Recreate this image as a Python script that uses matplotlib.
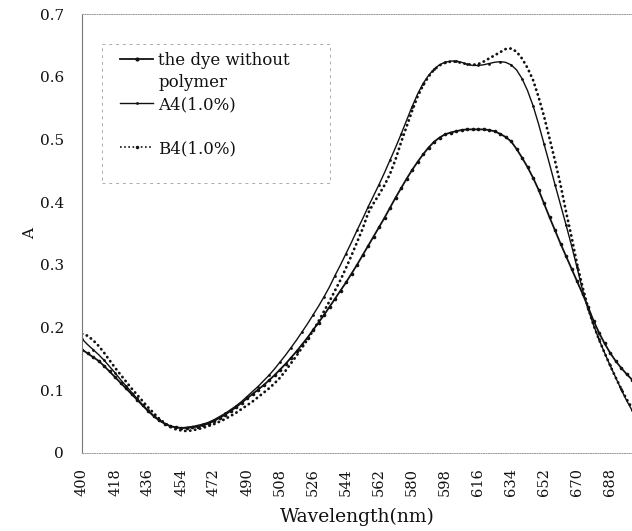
import matplotlib
matplotlib.use("Agg")
import matplotlib.pyplot as plt
from matplotlib.lines import Line2D
from matplotlib.patches import Rectangle
import numpy as np

plt.rcParams['font.family'] = ['DejaVu Serif']

# wavelength grid, 3 nm step
wavelength = np.arange(400, 701, 3)

# absorbance of the dye without polymer
dye = [0.165, 0.159, 0.153, 0.147, 0.139, 0.130, 0.121, 0.112, 0.103, 0.094,
       0.085, 0.076, 0.067, 0.059, 0.052, 0.047, 0.043, 0.041, 0.040, 0.040,
       0.041, 0.042, 0.044, 0.047, 0.051, 0.056, 0.061, 0.067, 0.073, 0.080,
       0.087, 0.094, 0.101, 0.108, 0.116, 0.124, 0.133, 0.142, 0.152, 0.162,
       0.173, 0.184, 0.196, 0.208, 0.220, 0.233, 0.246, 0.259, 0.272, 0.286,
       0.300, 0.315, 0.330, 0.345, 0.360, 0.375, 0.391, 0.407, 0.422, 0.437,
       0.451, 0.464, 0.476, 0.487, 0.496, 0.503, 0.508, 0.511, 0.513, 0.515,
       0.516, 0.516, 0.516, 0.516, 0.515, 0.513, 0.509, 0.504, 0.497, 0.485,
       0.471, 0.456, 0.439, 0.420, 0.398, 0.376, 0.355, 0.334, 0.314, 0.294,
       0.274, 0.254, 0.233, 0.211, 0.192, 0.175, 0.160, 0.147, 0.136, 0.126,
       0.117]

# A4 (1.0%)
a4 = [0.182, 0.173, 0.165, 0.157, 0.148, 0.138, 0.128, 0.117, 0.107, 0.097,
      0.087, 0.077, 0.068, 0.060, 0.053, 0.047, 0.043, 0.041, 0.040, 0.041,
      0.042, 0.044, 0.046, 0.049, 0.053, 0.058, 0.063, 0.069, 0.075, 0.082,
      0.090, 0.098, 0.106, 0.115, 0.124, 0.134, 0.145, 0.156, 0.168, 0.180,
      0.193, 0.206, 0.220, 0.234, 0.249, 0.265, 0.283, 0.300, 0.318, 0.336,
      0.355, 0.373, 0.392, 0.410, 0.428, 0.447, 0.467, 0.487, 0.508, 0.530,
      0.552, 0.572, 0.589, 0.602, 0.612, 0.619, 0.623, 0.625, 0.625, 0.623,
      0.620, 0.618, 0.618, 0.619, 0.621, 0.623, 0.624, 0.623, 0.619, 0.611,
      0.597, 0.578, 0.554, 0.525, 0.493, 0.461, 0.428, 0.396, 0.364, 0.331,
      0.296, 0.260, 0.230, 0.204, 0.181, 0.160, 0.140, 0.121, 0.102, 0.084,
      0.068]

# B4 (1.0%)
b4 = [0.190, 0.187, 0.180, 0.171, 0.160, 0.148, 0.136, 0.125, 0.114, 0.103,
      0.093, 0.083, 0.073, 0.064, 0.055, 0.048, 0.042, 0.038, 0.036, 0.035,
      0.036, 0.038, 0.040, 0.043, 0.046, 0.050, 0.054, 0.059, 0.064, 0.070,
      0.076, 0.082, 0.089, 0.096, 0.103, 0.111, 0.120, 0.131, 0.143, 0.155,
      0.168, 0.181, 0.195, 0.210, 0.226, 0.242, 0.259, 0.276, 0.295, 0.315,
      0.336, 0.357, 0.382, 0.398, 0.412, 0.427, 0.445, 0.468, 0.495, 0.520,
      0.545, 0.568, 0.586, 0.600, 0.611, 0.618, 0.622, 0.624, 0.624, 0.622,
      0.620, 0.619, 0.620, 0.624, 0.629, 0.634, 0.639, 0.644, 0.645, 0.640,
      0.629, 0.614, 0.595, 0.568, 0.537, 0.502, 0.466, 0.428, 0.385, 0.345,
      0.302, 0.265, 0.232, 0.204, 0.181, 0.160, 0.140, 0.121, 0.103, 0.086,
      0.072]

xticks = list(range(400, 689, 18))
yticks = [0, 0.1, 0.2, 0.3, 0.4, 0.5, 0.6, 0.7]
ytick_labels = ['0', '0.1', '0.2', '0.3', '0.4', '0.5', '0.6', '0.7']

ink = '#111111'

fig = plt.figure(figsize=(6.32, 5.31), dpi=100)
ax = fig.add_axes([82 / 632, 78 / 531, 550 / 632, 439 / 531])

ax.plot(wavelength, dye, color=ink, lw=1.3, marker='o', ms=2.6, mew=0)
ax.plot(wavelength, a4, color=ink, lw=1.0, marker='o', ms=2.0, mew=0, markevery=2)
ax.plot(wavelength, b4, color=ink, lw=2.0, linestyle=(0, (0.1, 1.7)),
        dash_capstyle='round')

ax.set_xlim(400, 700)
ax.set_ylim(0, 0.7)
ax.set_xticks(xticks)
ax.set_xticklabels([str(t) for t in xticks], rotation=90, fontsize=10.5)
ax.set_yticks(yticks)
ax.set_yticklabels(ytick_labels, fontsize=11)
ax.tick_params(axis='x', length=0, pad=11, colors=ink)
ax.tick_params(axis='y', length=0, pad=13, colors=ink)
ax.set_xlabel('Wavelength(nm)', fontsize=13.5, labelpad=8, color=ink)
ax.set_ylabel('A', fontsize=11, labelpad=2, color=ink)

ax.spines['right'].set_visible(False)
ax.spines['left'].set_color('#777777')
ax.spines['left'].set_linewidth(0.8)
for side in ['top', 'bottom']:
    ax.spines[side].set_color('#999999')
    ax.spines[side].set_linewidth(0.7)
    ax.spines[side].set_linestyle((0, (1, 1.5)))

# legend: the first label wraps onto a second row, and there is a gap before B4
blank = Line2D([], [], linestyle='none')
handles = [
    Line2D([], [], color=ink, lw=1.3, marker='o', ms=3, mew=0, markevery=[1]),
    blank,
    Line2D([], [], color=ink, lw=1.0, marker='o', ms=2, mew=0, markevery=[1]),
    blank,
    Line2D([], [], color=ink, lw=1.2, linestyle=(0, (1, 1.5)),
           marker='o', ms=2.5, mew=0, markevery=[0]),
]
labels = ['the dye without', 'polymer', 'A4(1.0%)', '', 'B4(1.0%)']
leg = ax.legend(handles, labels, loc='upper left',
                bbox_to_anchor=(120 / 632, 1 - 52 / 531),
                bbox_transform=fig.transFigure, frameon=False, fontsize=12,
                handlelength=2.0, handletextpad=0.3, labelspacing=0.3,
                borderpad=0, borderaxespad=0)
for t in leg.get_texts():
    t.set_color(ink)

fig.patches.append(Rectangle((102 / 632, 1 - 183 / 531), 228 / 632, 139 / 531,
                             transform=fig.transFigure, fill=False,
                             edgecolor='#aaaaaa', lw=0.7,
                             linestyle=(0, (3, 4))))

fig.savefig('out.png', dpi=100)
